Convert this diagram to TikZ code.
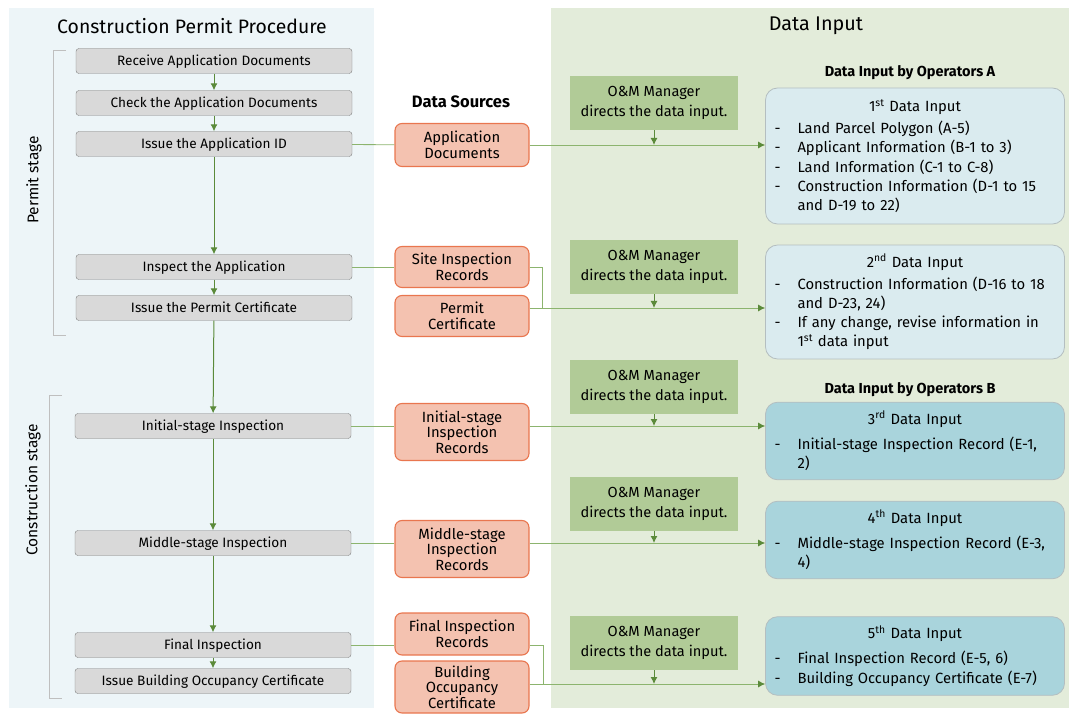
\documentclass[tikz,border=0pt]{standalone}
\usepackage{fontspec}
\setmainfont{Fira Sans}
\usetikzlibrary{arrows.meta,positioning}

\tikzset{
  stepbox/.style={draw=boxgray, fill=stepgray, rounded corners=3pt, minimum width=276pt,
    minimum height=25pt, inner sep=0pt, text depth=1pt, font=\fontsize{13.6}{15}\selectfont},
  srcbox/.style={draw=srcline, fill=srcfill, line width=1.1pt, rounded corners=7pt,
    minimum width=134pt, align=center, inner sep=1pt, font=\fontsize{14.8}{15.5}\selectfont},
  mgrbox/.style={fill=mgrfill, minimum width=168pt, minimum height=54pt, align=center,
    font=\fontsize{14.6}{19.5}\selectfont},
  inbox/.style={draw=inline, line width=0.8pt, rounded corners=12pt, minimum width=299pt,
    text width=281pt, align=left, inner sep=9pt, font=\fontsize{14.8}{19.2}\selectfont},
  flow/.style={draw=arrgreen, line width=1pt, -{Latex[length=7pt,width=7pt]}},
  feed/.style={draw=feedgreen, line width=0.8pt},
  feedarrow/.style={feed, -{Latex[length=7pt,width=7pt,color=arrgreen]}},
  heading/.style={font=\fontsize{14.5}{16}\selectfont\bfseries},
}
\newcommand{\itm}[1]{\makebox[23pt][l]{-}#1}
\newcommand{\cnt}[1]{\hspace*{23pt}#1}
\newcommand{\hd}[1]{\hspace*{\fill}#1\hspace*{\fill}\null}

\begin{document}
\begin{tikzpicture}[x=1pt, y=-1pt, >=Latex]
  \definecolor{leftbg}{HTML}{EDF5F8}
  \definecolor{rightbg}{HTML}{E3ECDA}
  \definecolor{stepgray}{HTML}{D9D9D9}
  \definecolor{boxgray}{HTML}{7F7F7F}
  \definecolor{srcfill}{HTML}{F4C2B0}
  \definecolor{srcline}{HTML}{E9764F}
  \definecolor{mgrfill}{HTML}{B1CB97}
  \definecolor{inlight}{HTML}{DAEBEF}
  \definecolor{indark}{HTML}{A9D4DC}
  \definecolor{inline}{HTML}{B4BEC0}
  \definecolor{arrgreen}{HTML}{5B8A3A}
  \definecolor{feedgreen}{HTML}{8CB46E}
  \definecolor{brgray}{HTML}{BFBFBF}
  \useasboundingbox (0,0) rectangle (1069,714);
  % panels
  \fill[leftbg] (9,8) rectangle (374,708);
  \fill[rightbg] (551,8) rectangle (1069,708);
  \node[font=\fontsize{19.4}{21}\selectfont] (ttlleft) at (192,26) {Construction Permit Procedure};
  \node[font=\fontsize{19.8}{21}\selectfont] (ttlright) at (816,26) {Data Input};
  \node[font=\fontsize{16.5}{18}\selectfont\bfseries] (ttlsrc) at (461,102) {Data Sources};
  \node[heading] (ttlopa) at (910,73) {Data Input by Operators A};
  \node[heading] (ttlopb) at (910,390) {Data Input by Operators B};

  % procedure steps
  \node[stepbox] (recv) at (214,61) {Receive Application Documents};
  \node[stepbox] (check) at (214,103) {Check the Application Documents};
  \node[stepbox] (appid) at (214,144) {Issue the Application ID};
  \node[stepbox] (insp) at (214,267) {Inspect the Application};
  \node[stepbox] (permit) at (214,308) {Issue the Permit Certificate};
  \node[stepbox] (init) at (213,426) {Initial-stage Inspection};
  \node[stepbox] (mid) at (213,543) {Middle-stage Inspection};
  \node[stepbox] (fin) at (213,645) {Final Inspection};
  \node[stepbox] (occ) at (213,681) {Issue Building Occupancy Certificate};
  \foreach \a/\b in {recv/check, check/appid, appid/insp, insp/permit, permit/init, init/mid, mid/fin, fin/occ}
    \draw[flow] (\a) -- (\b);

  % stage brackets
  \draw[brgray] (66,50) -- (53,50) -- (53,335) -- (66,335);
  \node[rotate=90, font=\fontsize{15.5}{17}\selectfont] (permstage) at (34,180) {Permit stage};
  \draw[brgray] (62,395) -- (49,395) -- (49,698) -- (62,698);
  \node[rotate=90, font=\fontsize{15.5}{17}\selectfont] (constage) at (33,490) {Construction stage};

  % data sources
  \node[srcbox, minimum height=43pt] (appdoc) at (462,145) {Application\\Documents};
  \node[srcbox, minimum height=41pt] (siterec) at (462,267) {Site Inspection\\Records};
  \node[srcbox, minimum height=41pt] (permcert) at (462,316) {Permit\\Certificate};
  \node[srcbox, minimum height=57pt] (initrec) at (462,432) {Initial-stage\\Inspection\\Records};
  \node[srcbox, minimum height=57pt] (midrec) at (462,549) {Middle-stage\\Inspection\\Records};
  \node[srcbox, minimum height=42pt] (finrec) at (462,634) {Final Inspection\\Records};
  \node[srcbox, minimum height=52pt] (occcert) at (462,687) {Building\\Occupancy\\Certificate};

  % O&M manager
  \foreach \n/\y in {1/103, 2/267, 3/387, 4/504, 5/643}
    \node[mgrbox] (mgr\n) at (654,\y) {O\&M Manager\\directs the data input.};

  % data input boxes
  \node[inbox, fill=inlight, minimum height=136pt] (in1) at (915,156) {%
    \hd{1\textsuperscript{st} Data Input}\\[3pt]
    \itm{Land Parcel Polygon (A-5)}\\
    \itm{Applicant Information (B-1 to 3)}\\
    \itm{Land Information (C-1 to C-8)}\\
    \itm{Construction Information (D-1 to 15}\\
    \cnt{and D-19 to 22)}};
  \node[inbox, fill=inlight, minimum height=111pt] (in2) at (915,302) {%
    \hd{2\textsuperscript{nd} Data Input}\\[3pt]
    \itm{Construction Information (D-16 to 18}\\
    \cnt{and D-23, 24)}\\
    \itm{If any change, revise information in}\\
    \cnt{1\textsuperscript{st} data input}};
  \node[inbox, fill=indark, minimum height=75pt] (in3) at (915,441) {%
    \hd{3\textsuperscript{rd} Data Input}\\[6pt]
    \itm{Initial-stage Inspection Record (E-1,}\\
    \cnt{2)}};
  \node[inbox, fill=indark, minimum height=76pt] (in4) at (915,540) {%
    \hd{4\textsuperscript{th} Data Input}\\[6pt]
    \itm{Middle-stage Inspection Record (E-3,}\\
    \cnt{4)}};
  \node[inbox, fill=indark, minimum height=76pt] (in5) at (915,656) {%
    \hd{5\textsuperscript{th} Data Input}\\[6pt]
    \itm{Final Inspection Record (E-5, 6)}\\
    \itm{Building Occupancy Certificate (E-7)}};

  % connectors
  \coordinate (j2) at (542,308);
  \coordinate (j5) at (543,684);
  \draw[feed] (appid) -- (appdoc);
  \draw[feed] (insp) -- (siterec);
  \draw[feed] (init.east) -- (init.east -| initrec.west);
  \draw[feed] (mid.east) -- (mid.east -| midrec.west);
  \draw[feed] (fin.east) -- (fin.east -| finrec.west);
  \draw[feed] (siterec.east) -| (j2);
  \draw[feed] (finrec.east |- fin.east) -| (j5);
  \draw[feedarrow] (appdoc.east) -- (appdoc.east -| in1.west);
  \draw[feedarrow] (permcert.east |- j2) -- (j2 -| in2.west);
  \draw[feedarrow] (initrec.east |- init.east) -- (init.east -| in3.west);
  \draw[feedarrow] (midrec.east |- mid.east) -- (mid.east -| in4.west);
  \draw[feedarrow] (occcert.east |- j5) -- (j5 -| in5.west);
  \draw[flow] (mgr1.south) -- (mgr1.south |- appdoc.east);
  \draw[flow] (mgr2.south) -- (mgr2.south |- j2);
  \draw[flow] (mgr3.south) -- (mgr3.south |- init.east);
  \draw[flow] (mgr4.south) -- (mgr4.south |- mid.east);
  \draw[flow] (mgr5.south) -- (mgr5.south |- j5);
\end{tikzpicture}
\end{document}
